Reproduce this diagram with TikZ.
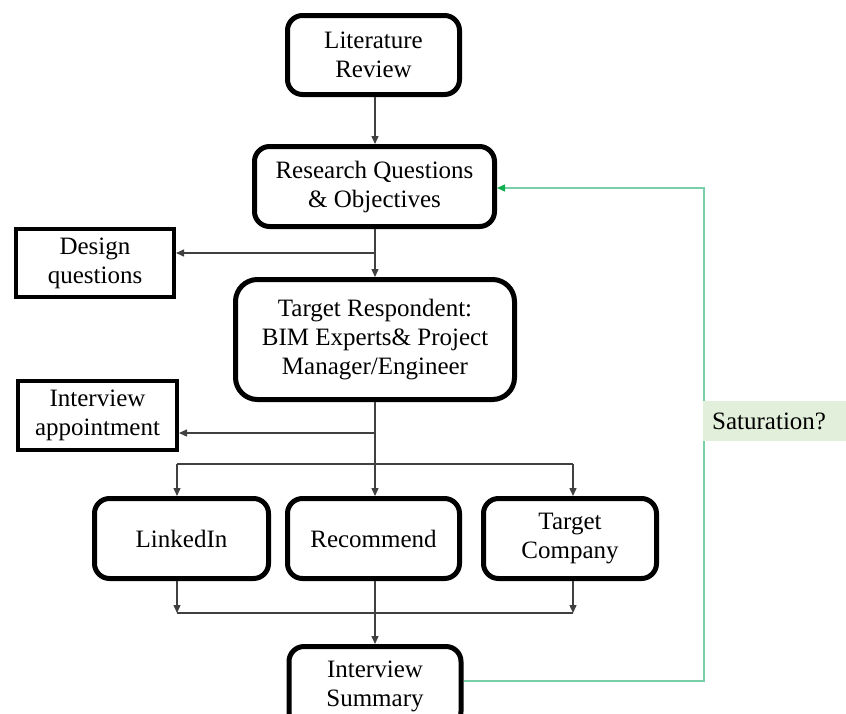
\documentclass[tikz,border=0pt]{standalone}
\usepackage{fontspec}
\setmainfont{Liberation Serif}
\usetikzlibrary{arrows.meta}
\definecolor{conn}{HTML}{404040}
\definecolor{satline}{HTML}{78CFA8}
\definecolor{sathead}{HTML}{10B050}
\definecolor{satfill}{HTML}{E2EFDA}
\tikzset{
  rbox/.style={draw=black, line width=5pt, rounded corners=15pt, fill=white, align=center, inner sep=0pt, font=\fontsize{25}{29}\selectfont},
  sbox/.style={draw=black, line width=4pt, fill=white, align=center, inner sep=0pt, font=\fontsize{25}{29}\selectfont},
  conline/.style={draw=conn, line width=1.3pt},
  conarrow/.style={conline, -{Triangle[length=8pt,width=7pt]}},
  satarrow/.style={draw=satline, line width=1.5pt, -{Triangle[length=8pt,width=7pt,color=sathead,fill=sathead]}}
}
\begin{document}
\begin{tikzpicture}[x=1pt,y=-1pt]
\useasboundingbox (0,0) rectangle (846,713);
\clip (0,0) rectangle (846,713);
\fill[white] (0,0) rectangle (846,713);

\node[rbox, minimum width=172pt, minimum height=79pt] (lit) at (373.5,55) {Literature\\Review};
\node[rbox, minimum width=240pt, minimum height=80pt] (rq) at (374.5,186.5) {Research Questions\\\& Objectives};
\node[sbox, minimum width=158pt, minimum height=68pt] (des) at (95,263) {Design\\questions};
\node[rbox, rounded corners=22pt, minimum width=279pt, minimum height=120pt] (tr) at (375,339.5) {Target Respondent:\\BIM Experts\& Project\\Manager/Engineer};
\node[sbox, minimum width=159pt, minimum height=69pt] (app) at (97.5,415.5) {Interview\\appointment};
\node[rbox, minimum width=174pt, minimum height=80pt] (li) at (181.5,538.5) {LinkedIn};
\node[rbox, minimum width=172pt, minimum height=80pt] (rec) at (373.5,538.5) {Recommend};
\node[rbox, minimum width=173pt, minimum height=80pt] (tc) at (570,538.5) {Target\\Company};
\node[rbox, minimum width=172pt, minimum height=80pt] (sum) at (375,686.5) {Interview\\Summary};

% coordinates for junctions
\coordinate (cx) at (375,0);
\coordinate (j1) at (375,253);
\coordinate (j2) at (375,433);
\coordinate (bl) at (177,464);
\coordinate (br) at (573,464);
\coordinate (ll) at (177,613);
\coordinate (lr) at (573,613);
\coordinate (g1) at (704,681);
\coordinate (g2) at (704,188);

% connectors
\draw[conarrow] (lit.south -| cx) -- (rq.north -| cx);
\draw[conarrow] (rq.south -| cx) -- (tr.north -| cx);
\draw[conarrow] (j1) -- (des.east |- j1);
\draw[conarrow] (tr.south -| cx) -- (rec.north -| cx);
\draw[conarrow] (j2) -- (app.east |- j2);
\draw[conline] (bl) -- (br);
\draw[conarrow] (bl) -- (bl |- li.north);
\draw[conarrow] (br) -- (br |- tc.north);
\draw[conarrow] (ll |- li.south) -- (ll);
\draw[conarrow] (lr |- tc.south) -- (lr);
\draw[conline] (ll) -- (lr);
\draw[conarrow] (rec.south -| cx) -- (sum.north -| cx);

% feedback loop
\draw[satarrow] (sum.east |- g1) -- (g1) -- (g2) -- (rq.east |- g2);
\node[fill=satfill, anchor=west, minimum width=150pt, minimum height=40pt, inner sep=0pt] (sat) at (703,421) {};
\node[anchor=west, inner sep=0pt, font=\fontsize{25}{29}\selectfont] (sattext) at (712,421) {Saturation?};
\end{tikzpicture}
\end{document}
